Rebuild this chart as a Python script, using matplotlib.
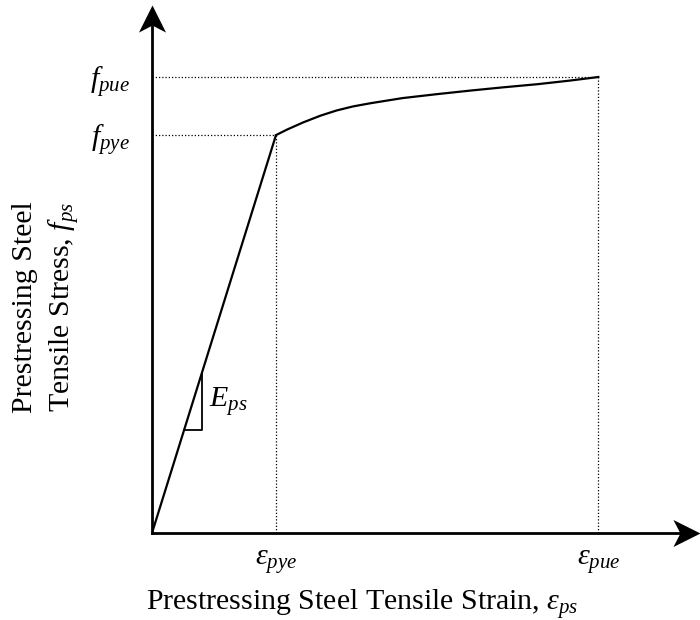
import matplotlib
matplotlib.use("Agg")
import matplotlib.pyplot as plt
from matplotlib.path import Path
from matplotlib.transforms import Affine2D

plt.rcParams['font.family'] = ['Liberation Serif', 'DejaVu Serif']
plt.rcParams['mathtext.fontset'] = 'custom'
plt.rcParams['mathtext.rm'] = 'Liberation Serif'
plt.rcParams['mathtext.it'] = 'Liberation Serif:italic'

# idealised stress-strain curve (normalised: eps_pye = 1, f_pye = 1)
eps_pye = 1.0
eps_pue = 3.60
f_pye = 1.0
f_pue = 1.146

# elastic branch
elastic_eps = [0.0, eps_pye]
elastic_f = [0.0, f_pye]

# strain-hardening branch
hard_eps = [1.0, 1.09, 1.22, 1.36, 1.49, 1.62, 1.76, 2.02, 2.30, 2.57, 2.83, 3.11, 3.37, 3.60]
hard_f = [1.0, 1.014, 1.032, 1.049, 1.062, 1.072, 1.080, 1.093, 1.103, 1.112, 1.120, 1.128, 1.137, 1.146]

# slope triangle on the elastic line
tri_eps = [0.26, 0.40]

x_ticks = [eps_pye, eps_pue]
x_labels = [r'$\varepsilon_{pye}$', r'$\varepsilon_{pue}$']
y_ticks = [f_pye, f_pue]
y_labels = [r'$f_{pye}$', r'$f_{pue}$']

x_max = 4.42
y_max = 1.327

fs = 21.5

fig = plt.figure(figsize=(7, 6.2), dpi=100)
ax = fig.add_axes([152 / 700, 87 / 620, 548 / 700, 528 / 620])
ax.set_xlim(0, x_max)
ax.set_ylim(0, y_max)

# curve
ax.plot(elastic_eps, elastic_f, color='black', lw=1.6, solid_capstyle='butt')
ax.plot(hard_eps, hard_f, color='black', lw=1.6, solid_joinstyle='round')

# dotted guide lines
dot = dict(color='black', lw=0.9, ls=(0, (1, 1.6)))
ax.plot([0, eps_pye], [f_pye, f_pye], **dot)
ax.plot([eps_pye, eps_pye], [0, f_pye], **dot)
ax.plot([0, eps_pue], [f_pue, f_pue], **dot)
ax.plot([eps_pue, eps_pue], [0, f_pue], **dot)

# slope triangle
ax.plot([tri_eps[0], tri_eps[1], tri_eps[1]], [tri_eps[0], tri_eps[0], tri_eps[1]],
        color='black', lw=1.3)
ax.text(tri_eps[1] + 0.06, tri_eps[0] + 0.058, r'$E_{ps}$', fontsize=fs,
        ha='left', va='baseline')

# axes with arrow heads
for side in ['top', 'right']:
    ax.spines[side].set_visible(False)
for side in ['left', 'bottom']:
    ax.spines[side].set_linewidth(2.0)
ax.spines['left'].set_bounds(0, y_max - 0.03)
ax.spines['bottom'].set_bounds(0, x_max - 0.08)

head = Path([(0, 0), (0.5, -1), (0, -0.74), (-0.5, -1), (0, 0)],
            [Path.MOVETO, Path.LINETO, Path.LINETO, Path.LINETO, Path.CLOSEPOLY])
ax.plot([0], [y_max], marker=head, ms=39, color='black', mew=0, clip_on=False)
ax.plot([x_max], [0], marker=head.transformed(Affine2D().rotate_deg(-90)),
        ms=39, color='black', mew=0, clip_on=False)

ax.set_xticks(x_ticks)
ax.set_xticklabels(x_labels, fontsize=fs)
ax.set_yticks(y_ticks)
ax.set_yticklabels(y_labels, fontsize=fs)
ax.tick_params(length=0)
ax.tick_params(axis='x', pad=11)
ax.tick_params(axis='y', pad=16)

fig.text(362 / 700, 10 / 620, r'Prestressing Steel Tensile Strain, $\varepsilon_{ps}$',
         fontsize=fs, ha='center', va='baseline')
fig.text(47 / 700, 313 / 620, 'Prestressing Steel\nTensile Stress, $f_{ps}$',
         fontsize=fs, ha='center', va='center', rotation=90, linespacing=1.35)

fig.savefig('out.png', dpi=100)
